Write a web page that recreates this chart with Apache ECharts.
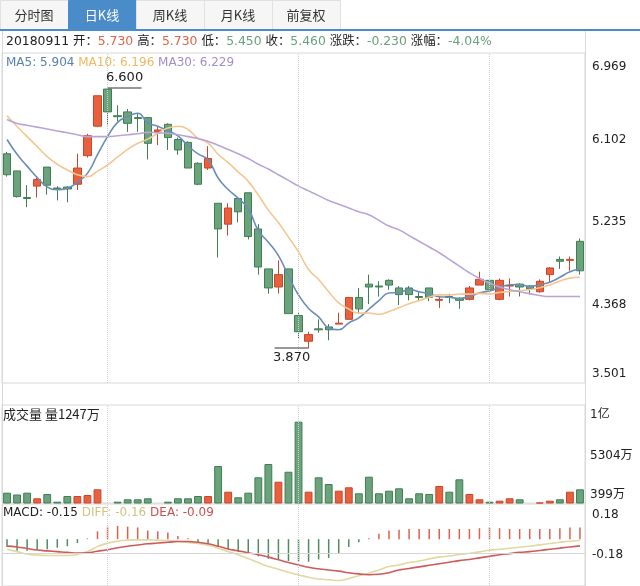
<!DOCTYPE html>
<html><head><meta charset="utf-8">
<script src="https://cdn.jsdelivr.net/npm/echarts@6/dist/echarts.min.js"></script>
<style>html,body{margin:0;padding:0;background:#fff}#c{width:640px;height:586px}</style>
</head><body><div id="c"></div>
<script>
const dates = ['2018-09-10','2018-09-11','2018-09-12','2018-09-13','2018-09-14','2018-09-17','2018-09-18','2018-09-19','2018-09-20','2018-09-21','2018-09-25','2018-09-26','2018-09-27','2018-09-28','2018-10-08','2018-10-09','2018-10-10','2018-10-11','2018-10-12','2018-10-15','2018-10-16','2018-10-17','2018-10-18','2018-10-19','2018-10-22','2018-10-23','2018-10-24','2018-10-25','2018-10-26','2018-10-29','2018-10-30','2018-10-31','2018-11-01','2018-11-02','2018-11-05','2018-11-06','2018-11-07','2018-11-08','2018-11-09','2018-11-12','2018-11-13','2018-11-14','2018-11-15','2018-11-16','2018-11-19','2018-11-20','2018-11-21','2018-11-22','2018-11-23','2018-11-26','2018-11-27','2018-11-28','2018-11-29','2018-11-30','2018-12-03','2018-12-04','2018-12-05','2018-12-06'];
const openP  = [5.91,5.73,5.45,5.57,5.77,5.55,5.56,5.59,5.89,6.20,6.59,6.31,6.35,6.29,6.29,6.14,6.22,6.06,6.03,5.81,5.76,5.39,5.17,5.44,5.50,5.12,4.70,4.51,4.70,4.21,3.94,4.07,4.09,4.12,4.17,4.40,4.54,4.52,4.58,4.50,4.50,4.41,4.50,4.37,4.41,4.39,4.38,4.53,4.58,4.38,4.52,4.54,4.52,4.46,4.64,4.80,4.79,4.99];
const closeP = [5.69,5.46,5.44,5.64,5.58,5.54,5.54,5.76,6.10,6.52,6.35,6.30,6.23,6.28,6.02,6.16,6.08,5.95,5.76,5.59,5.86,5.12,5.34,5.30,5.04,4.72,4.50,4.64,4.23,4.04,4.01,4.06,4.06,4.13,4.40,4.28,4.51,4.51,4.53,4.43,4.43,4.40,4.40,4.38,4.40,4.37,4.50,4.59,4.48,4.58,4.525,4.51,4.49,4.57,4.71,4.78,4.80,4.68];
const lowP   = [5.67,5.45,5.35,5.45,5.48,5.42,5.40,5.53,5.87,6.19,6.21,6.25,6.14,6.14,5.85,6.00,5.95,5.90,5.76,5.58,5.74,4.82,5.05,5.19,5.01,4.64,4.44,4.44,4.23,3.97,3.87,4.03,3.95,4.12,4.17,4.23,4.33,4.41,4.48,4.32,4.37,4.36,4.36,4.29,4.34,4.28,4.37,4.53,4.47,4.37,4.41,4.41,4.43,4.45,4.56,4.70,4.68,4.64];
const highP  = [5.93,5.73,5.58,5.66,5.77,5.57,5.57,5.91,6.12,6.52,6.60,6.42,6.38,6.335,6.29,6.195,6.23,6.08,6.04,5.82,5.99,5.39,5.39,5.44,5.50,5.17,4.70,4.79,4.70,4.24,4.04,4.17,4.12,4.24,4.40,4.50,4.64,4.57,4.59,4.52,4.52,4.46,4.50,4.41,4.44,4.40,4.52,4.67,4.58,4.60,4.60,4.55,4.53,4.59,4.72,4.83,4.83,5.02];
const ma5  = [6.06,5.904,5.78,5.66,5.562,5.532,5.548,5.612,5.704,5.90,6.09,6.24,6.30,6.336,6.236,6.198,6.154,6.098,5.994,5.908,5.848,5.656,5.534,5.442,5.332,5.104,4.98,4.84,4.626,4.426,4.284,4.196,4.08,4.06,4.132,4.186,4.276,4.366,4.446,4.452,4.482,4.46,4.438,4.408,4.402,4.39,4.41,4.448,4.468,4.504,4.534,4.536,4.516,4.534,4.56,4.612,4.67,4.70];
const ma10 = [6.31,6.196,6.09,5.985,5.88,5.80,5.74,5.69,5.67,5.727,5.793,5.877,5.956,6.02,6.064,6.126,6.18,6.199,6.165,6.072,6.023,5.905,5.816,5.718,5.62,5.476,5.318,5.187,5.034,4.879,4.694,4.588,4.46,4.343,4.279,4.235,4.236,4.223,4.253,4.292,4.334,4.368,4.402,4.427,4.427,4.436,4.435,4.443,4.438,4.453,4.462,4.473,4.482,4.501,4.532,4.573,4.603,4.612];
const ma30 = [6.27,6.229,6.21,6.19,6.17,6.15,6.13,6.11,6.09,6.09,6.09,6.10,6.11,6.12,6.135,6.13,6.125,6.11,6.09,6.07,6.04,6.00,5.955,5.91,5.86,5.80,5.75,5.69,5.63,5.57,5.52,5.47,5.42,5.38,5.34,5.30,5.27,5.21,5.15,5.11,5.05,4.99,4.93,4.87,4.80,4.73,4.66,4.60,4.55,4.51,4.48,4.46,4.44,4.42,4.41,4.41,4.41,4.41];
const volume = [1430,1247,1430,870,1300,530,1100,1100,1200,1770,430,530,770,770,870,430,530,870,870,1100,1100,4100,1530,970,1430,2970,4300,2530,3530,8540,1530,2970,2300,1630,1970,1370,3030,1370,1630,1870,870,1370,1300,2100,1530,2770,1300,770,530,630,870,770,430,450,630,770,1530,1770];
const diff = [-0.13,-0.16,-0.19,-0.205,-0.21,-0.21,-0.21,-0.195,-0.158,-0.094,-0.052,-0.026,-0.013,-0.009,-0.009,-0.013,-0.017,-0.03,-0.043,-0.056,-0.077,-0.116,-0.158,-0.20,-0.248,-0.30,-0.35,-0.385,-0.424,-0.458,-0.488,-0.51,-0.52,-0.53,-0.505,-0.47,-0.437,-0.394,-0.351,-0.33,-0.30,-0.28,-0.253,-0.23,-0.215,-0.197,-0.18,-0.163,-0.14,-0.13,-0.116,-0.103,-0.09,-0.073,-0.056,-0.04,-0.026,-0.018];
const dea = [-0.09,-0.10,-0.12,-0.14,-0.15,-0.16,-0.17,-0.178,-0.175,-0.155,-0.135,-0.11,-0.09,-0.075,-0.06,-0.05,-0.04,-0.03,-0.03,-0.04,-0.06,-0.09,-0.125,-0.15,-0.175,-0.20,-0.23,-0.265,-0.30,-0.33,-0.36,-0.38,-0.395,-0.41,-0.43,-0.445,-0.455,-0.45,-0.43,-0.395,-0.375,-0.355,-0.335,-0.315,-0.295,-0.275,-0.26,-0.24,-0.22,-0.20,-0.185,-0.17,-0.16,-0.145,-0.13,-0.115,-0.10,-0.086];
const macd = [-0.10,-0.15,-0.15,-0.14,-0.13,-0.11,-0.09,-0.05,0.01,0.10,0.16,0.17,0.16,0.15,0.11,0.10,0.085,0.04,0.01,-0.04,-0.05,-0.10,-0.13,-0.16,-0.19,-0.22,-0.25,-0.26,-0.28,-0.29,-0.29,-0.26,-0.24,-0.18,-0.10,-0.04,0.01,0.07,0.11,0.12,0.13,0.13,0.13,0.13,0.13,0.13,0.13,0.14,0.15,0.14,0.13,0.13,0.13,0.13,0.13,0.14,0.15,0.15];
const priceTicks = [3.501,4.368,5.235,6.102,6.969];
const volTicks = [399,5304,10209];
const volTickText = ['399万','5304万','1亿'];
const macdTicks = [-0.18,0.18];
const gridMarks = [10,29,48];
const tabs = ['分时图','日K线','周K线','月K线','前复权'];

const FONT = "'DejaVu Sans','Noto Sans CJK SC',sans-serif";
const UP='#e8603d', UPB='#c8472c', DN='#6ba47c', DNB='#3f7d53';
const RT='#df6448', GT='#6aa07b';

const chart = echarts.init(document.getElementById('c'), null, {renderer:'canvas'});
const candle = dates.map((d,i)=>[openP[i],closeP[i],lowP[i],highP[i]]);
const volData = volume.map((v,i)=>{const up=closeP[i]>=openP[i];return {value:v,itemStyle:{color:up?UP:DN,borderColor:up?UPB:DNB,borderWidth:1}};});
const hiIdx = highP.indexOf(Math.max(...highP));
const loIdx = lowP.indexOf(Math.min(...lowP));
const vMarks = {silent:true,symbol:['none','none'],label:{show:false},lineStyle:{type:'dotted',color:'#cfcfcf',width:1},data:gridMarks.map(i=>({xAxis:dates[i]}))};
const yBase = {position:'right',splitLine:{show:false},axisLine:{show:false},axisTick:{show:false}};
const lab = {color:'#222',fontSize:12,fontFamily:FONT};

const option = {
  animation:false,
  textStyle:{fontFamily:FONT},
  grid:[
    {left:2,right:55,top:53,height:330,show:true,borderColor:'#d8d8d8',borderWidth:1},
    {left:2,right:55,top:405,height:98,show:true,borderColor:'#d8d8d8',borderWidth:1},
    {left:2,right:55,top:504,height:82,show:true,borderColor:'#d8d8d8',borderWidth:1}
  ],
  xAxis:[0,1,2].map(g=>({type:'category',gridIndex:g,data:dates,boundaryGap:true,axisLine:{show:false},axisTick:{show:false},axisLabel:{show:false},splitLine:{show:false}})),
  yAxis:[
    Object.assign({gridIndex:0,min:3.501,max:6.969,axisLabel:{customValues:priceTicks,margin:7,
      formatter:v=>{const s=v.toFixed(3); if(Math.abs(v-priceTicks[4])<1e-6)return '{t|'+s+'}'; if(Math.abs(v-priceTicks[0])<1e-6)return '{b|'+s+'}'; return '{m|'+s+'}';},
      rich:{t:Object.assign({padding:[28,0,0,0]},lab),b:Object.assign({padding:[0,0,18,0]},lab),m:Object.assign({padding:[8,0,0,0]},lab)}}},yBase),
    Object.assign({gridIndex:1,min:399,max:10209,axisLabel:{customValues:volTicks,margin:5,
      formatter:v=>{const k=volTicks.findIndex(t=>Math.abs(t-v)<1e-6);const s=volTickText[k]; return k===2?'{t|'+s+'}':k===1?'{m|'+s+'}':'{b|'+s+'}';},
      rich:{t:Object.assign({padding:[20,0,0,0]},lab),m:Object.assign({padding:[4,0,0,0]},lab),b:Object.assign({padding:[0,0,16,0]},lab)}}},yBase),
    Object.assign({gridIndex:2,min:-0.6,max:0.45,axisLabel:{customValues:macdTicks,margin:7,
      formatter:v=>v>0?'{t|'+v.toFixed(2)+'}':'{m|'+v.toFixed(2)+'}',
      rich:{t:Object.assign({padding:[0,0,20,0]},lab),m:Object.assign({padding:[4,0,0,0]},lab)}}},yBase)
  ],
  series:[
    {type:'candlestick',xAxisIndex:0,yAxisIndex:0,data:candle,barWidth:'78%',
     itemStyle:{color:UP,color0:DN,borderColor:UPB,borderColor0:DNB,borderWidth:1},
     markLine:vMarks,
     markPoint:{silent:true,data:[
       {coord:[dates[hiIdx],highP[hiIdx]],symbol:'rect',symbolSize:[34,1],symbolOffset:[17,0],itemStyle:{color:'#333'},
        label:{show:true,position:'top',distance:3,formatter:highP[hiIdx].toFixed(3),color:'#222',fontSize:13,fontFamily:FONT}},
       {coord:[dates[loIdx],lowP[loIdx]],symbol:'rect',symbolSize:[34,1],symbolOffset:[-17,0],itemStyle:{color:'#333'},
        label:{show:true,position:'bottom',distance:3,formatter:lowP[loIdx].toFixed(3),color:'#222',fontSize:13,fontFamily:FONT}}
     ]}},
    {type:'line',name:'MA5',xAxisIndex:0,yAxisIndex:0,data:ma5,showSymbol:false,smooth:true,lineStyle:{color:'#6a8db8',width:1.6}},
    {type:'line',name:'MA10',xAxisIndex:0,yAxisIndex:0,data:ma10,showSymbol:false,smooth:true,lineStyle:{color:'#f4c690',width:1.6}},
    {type:'line',name:'MA30',xAxisIndex:0,yAxisIndex:0,data:ma30,showSymbol:false,smooth:true,lineStyle:{color:'#b8a5d6',width:1.6}},
    {type:'bar',xAxisIndex:1,yAxisIndex:1,data:volData,barWidth:'78%',markLine:vMarks},
    {type:'bar',xAxisIndex:2,yAxisIndex:2,data:macd,barWidth:1.5,
     itemStyle:{color:p=>p.value>=0?'#e0604c':'#4f8d60'},markLine:vMarks},
    {type:'line',name:'DIFF',xAxisIndex:2,yAxisIndex:2,data:diff,showSymbol:false,smooth:true,lineStyle:{color:'#e0d9a0',width:1.6}},
    {type:'line',name:'DEA',xAxisIndex:2,yAxisIndex:2,data:dea,showSymbol:false,smooth:true,lineStyle:{color:'#cf5a5a',width:1.6},
     markLine:{silent:true,symbol:['none','none'],label:{show:false},lineStyle:{type:'solid',color:'#d6d6d6',width:1},data:[{yAxis:macdTicks[0]}]}}
  ],
  graphic:[]
};

const g = option.graphic;
tabs.forEach((t,i)=>{
  const x=i*68;
  g.push({type:'rect',z:100,shape:{x:x+0.5,y:0.5,width:68,height:29},style:{fill:i===1?'#4a8bc9':'#f6f6f6',stroke:i===1?'#4a8bc9':'#e1e1e1',lineWidth:1}});
  g.push({type:'text',z:101,x:x+34,y:15,style:{text:t,fill:i===1?'#ffffff':'#333333',font:"13px 'Noto Sans CJK SC'",align:'center',verticalAlign:'middle',textAlign:'center',textVerticalAlign:'middle'}});
});
g.push({type:'rect',z:100,shape:{x:0,y:29,width:640,height:2},style:{fill:'#4a8bc9'}});
g.push({type:'line',z:100,shape:{x1:585.5,y1:31,x2:585.5,y2:586},style:{stroke:'#d8d8d8',lineWidth:1}});
g.push({type:'line',z:100,shape:{x1:2.5,y1:31,x2:2.5,y2:586},style:{stroke:'#d8d8d8',lineWidth:1}});
const rtext=(x,y,text,rich,size)=>({type:'text',z:101,x:x,y:y,style:{text:text,rich:rich,font:(size||12)+'px '+FONT,fill:'#222',verticalAlign:'middle',textVerticalAlign:'middle'}});
g.push(rtext(6,42,'{k|20180911 开：}{r|5.730}{k| 高：}{r|5.730}{k| 低：}{g|5.450}{k| 收：}{g|5.460}{k| 涨跌：}{g|-0.230}{k| 涨幅：}{g|-4.04%}',
  {k:{fill:'#222'},r:{fill:RT},g:{fill:GT}},12.4));
g.push(rtext(6,63,'{a|MA5: 5.904} {b|MA10: 6.196} {c|MA30: 6.229}',{a:{fill:'#5b80ad'},b:{fill:'#efb75e'},c:{fill:'#a28dcb'}}));
g.push(rtext(3,414,'{k|成交量 量1247万}',{k:{fill:'#222',font:"13px 'Noto Sans CJK SC'"}}));
g.push(rtext(3,513,'{k|MACD: -0.15} {d|DIFF: -0.16} {e|DEA: -0.09}',{k:{fill:'#222'},d:{fill:'#cfc67e'},e:{fill:'#c9504c'}}));

chart.setOption(option);
</script></body></html>
